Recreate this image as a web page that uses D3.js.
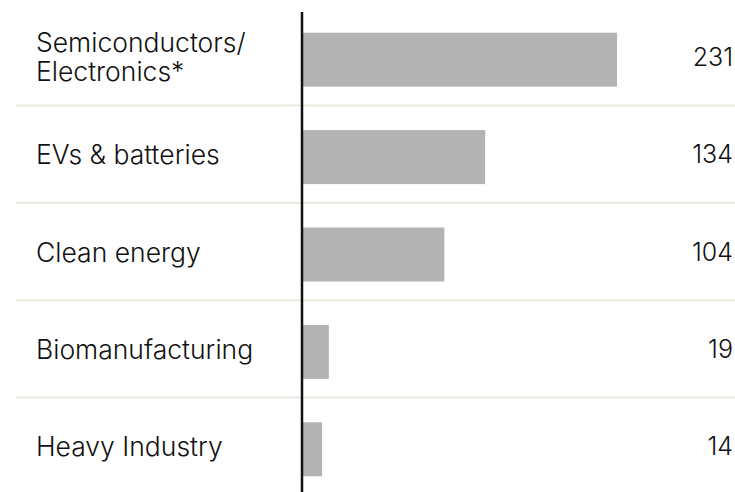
<!DOCTYPE html>
<html><head><meta charset="utf-8">
<script src="https://cdn.jsdelivr.net/npm/d3@7"></script>
<style>html,body{margin:0;padding:0;background:#fff;}svg{display:block;}</style>
</head><body>
<svg id="c" width="735" height="492"></svg>
<script>
const categories = [["Semiconductors/","Electronics*"],["EVs & batteries"],["Clean energy"],["Biomanufacturing"],["Heavy Industry"]];
const values = [231,134,104,19,14];

const W = 735, H = 492;
const svg = d3.select("#c");
const font = "Inter, 'Noto Sans', sans-serif";
const fs = 26.5;

const x = d3.scaleLinear().domain([0, 231]).range([303, 617]);
const y = d3.scaleBand().domain(d3.range(values.length)).range([11, 498]).paddingInner(0).paddingOuter(0);
const barH = 54;

// separators
svg.selectAll("line.sep").data(d3.range(1, values.length)).join("line")
  .attr("x1", 16).attr("x2", W)
  .attr("y1", i => y(i) - 3).attr("y2", i => y(i) - 3)
  .attr("stroke", "#e8e8df").attr("stroke-width", 2);

// bars
svg.selectAll("rect.bar").data(values).join("rect")
  .attr("x", x(0)).attr("width", d => x(d) - x(0))
  .attr("y", (d, i) => y(i) + y.bandwidth() / 2 - barH / 2)
  .attr("height", barH).attr("fill", "#b3b3b3");

// axis line
svg.append("line").attr("x1", 302).attr("x2", 302).attr("y1", 12).attr("y2", H)
  .attr("stroke", "#111").attr("stroke-width", 2.5);

// labels
categories.forEach((lines, i) => {
  const cy = y(i) + y.bandwidth() / 2;
  const lh = 29;
  const t = svg.append("text").attr("x", 36).attr("font-family", font).attr("font-size", fs)
    .attr("font-weight", 330).attr("fill", "#111");
  lines.forEach((s, k) => {
    t.append("tspan").attr("x", 36)
      .attr("y", cy + (k - (lines.length - 1) / 2) * lh - 3)
      .attr("dominant-baseline", "central").text(s);
  });
});

// values
svg.selectAll("text.val").data(values).join("text")
  .attr("x", 733).attr("text-anchor", "end")
  .attr("y", (d, i) => y(i) + y.bandwidth() / 2 - 3)
  .attr("dominant-baseline", "central")
  .attr("font-family", font).attr("font-size", 25).attr("font-weight", 330).attr("fill", "#111")
  .text(d => d);
</script>
</body></html>
